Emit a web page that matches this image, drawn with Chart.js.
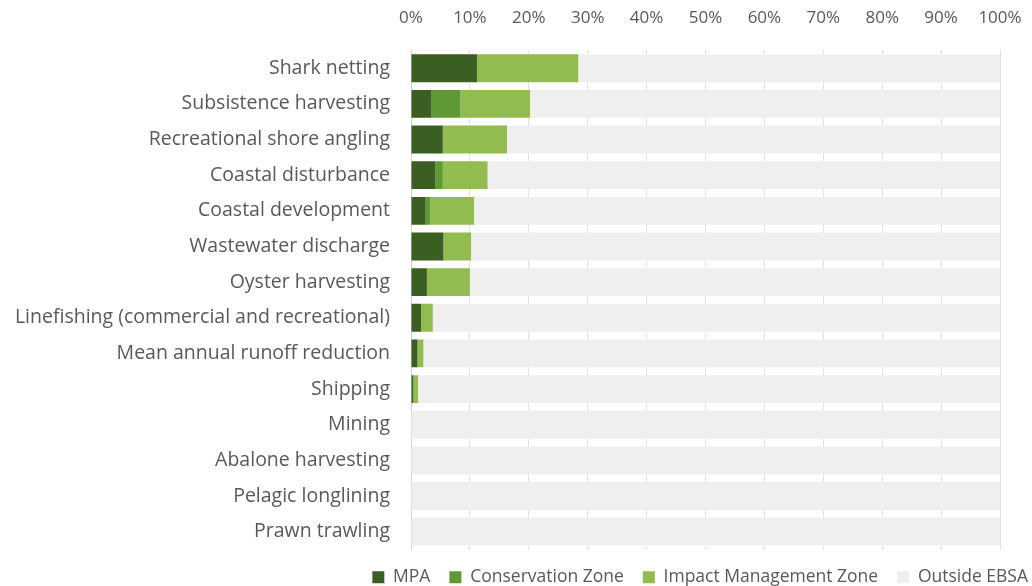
<!DOCTYPE html>
<html>
<head>
<meta charset="utf-8">
<script src="https://cdn.jsdelivr.net/npm/chart.js@4"></script>
<style>
  body { margin: 0; background: #fff; }
  #wrap { width: 1032px; height: 586px; }
</style>
</head>
<body>
<div id="wrap"><canvas id="pressureChart"></canvas></div>
<script>
var categories = ['Shark netting', 'Subsistence harvesting', 'Recreational shore angling',
    'Coastal disturbance', 'Coastal development', 'Wastewater discharge', 'Oyster harvesting',
    'Linefishing (commercial and recreational)', 'Mean annual runoff reduction', 'Shipping',
    'Mining', 'Abalone harvesting', 'Pelagic longlining', 'Prawn trawling'];
var mpa          = [11.2, 3.5, 5.4, 4.1, 2.5, 5.5, 2.7, 1.7, 1.1, 0.4, 0, 0, 0, 0];
var conservation = [0, 4.9, 0, 1.3, 0.8, 0, 0, 0, 0, 0, 0, 0, 0, 0];
var impact       = [17.2, 11.8, 10.9, 7.6, 7.4, 4.7, 7.3, 2.0, 1.0, 0.8, 0, 0, 0, 0];
var outside = categories.map(function (c, i) {
    return +(100 - mpa[i] - conservation[i] - impact[i]).toFixed(1);
});
var tickLabels = ['0%', '10%', '20%', '30%', '40%', '50%', '60%', '70%', '80%', '90%', '100%'];

var ctx = document.getElementById('pressureChart').getContext('2d');
var chart = new Chart(ctx, {
    type: 'bar',
    data: {
        labels: categories,
        datasets: [{
            label: 'MPA',
            data: mpa,
            backgroundColor: '#3b5e22'
        },
        {
            label: 'Conservation Zone',
            data: conservation,
            backgroundColor: '#5f9935'
        },
        {
            label: 'Impact Management Zone',
            data: impact,
            backgroundColor: '#93bc50'
        },
        {
            label: 'Outside EBSA',
            data: outside,
            backgroundColor: '#efefef'
        }]
    },
    options: {
        indexAxis: 'y',
        responsive: true,
        maintainAspectRatio: false,
        animation: false,
        // negative paddings pull the legend into the corner like the original
        layout: { padding: { left: 0, right: -15, top: -14, bottom: -10 } },
        datasets: { bar: { categoryPercentage: 1, barPercentage: 0.78 } },
        scales: {
            x: {
                stacked: true,
                position: 'top',
                min: 0,
                max: 100,
                grid: { color: '#e2e2e2', drawTicks: false },
                border: { display: false },
                ticks: {
                    stepSize: 10,
                    padding: 22,
                    color: '#595959',
                    font: { family: 'Open Sans', size: 17 },
                    callback: function (v, i) { return tickLabels[i]; }
                },
                afterFit: function (scale) { scale.paddingRight = 32; }
            },
            y: {
                stacked: true,
                grid: { display: false, drawTicks: false },
                border: { display: true, color: '#d0d0d0' },
                ticks: {
                    padding: 21,
                    color: '#595959',
                    font: { family: 'Open Sans', size: 19.5 }
                },
                afterFit: function (scale) {
                    scale.width = 411;
                    scale.paddingTop = 0;
                    scale.paddingBottom = 0;
                }
            }
        },
        plugins: {
            legend: {
                position: 'bottom',
                align: 'end',
                labels: {
                    boxWidth: 12,
                    boxHeight: 12,
                    padding: 19,
                    color: '#595959',
                    font: { family: 'Open Sans', size: 17.5 }
                }
            },
            tooltip: { enabled: false }
        }
    }
});
</script>
</body>
</html>
